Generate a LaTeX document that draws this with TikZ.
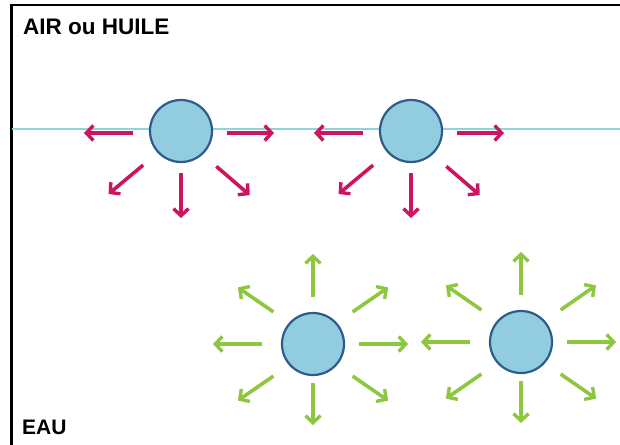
\documentclass[tikz,border=0pt]{standalone}
\usepackage{fontspec}
\setmainfont{Liberation Sans}
\usetikzlibrary{arrows.meta}
\definecolor{redar}{HTML}{CC1560}
\definecolor{greenar}{HTML}{8DC63F}
\definecolor{ballfill}{HTML}{92CDDF}
\definecolor{balledge}{HTML}{2E5A8C}
\definecolor{surface}{HTML}{8FD3DF}
\tikzset{
  ball/.style={circle, draw=balledge, fill=ballfill, line width=2.2pt, minimum size=62pt, inner sep=0pt},
  redarrow/.style={draw=redar, line width=3.6pt, -{Straight Barb[length=7pt,width=15pt,line width=3.4pt]}},
  greenarrow/.style={draw=greenar, line width=3.6pt, -{Straight Barb[length=7pt,width=15pt,line width=3.4pt]}},
  label/.style={font=\bfseries, anchor=base west, inner sep=0pt}
}
\begin{document}
\begin{tikzpicture}[x=1pt,y=-1pt]
\useasboundingbox (0,0) rectangle (620,444);
\clip (0,0) rectangle (620,444);
\draw[black, line width=2.2pt] (11.5,5) rectangle (630,460);
% interface
\coordinate (sl) at (12,129);
\coordinate (sr) at (620,129);
\draw[surface, line width=2.4pt] (sl) -- (sr);
% labels
\node[label, font=\bfseries\fontsize{22.5}{26}\selectfont] (air) at (23,34.3) {AIR ou HUILE};
\node[label, font=\bfseries\fontsize{21}{24}\selectfont] (eau) at (22,434.3) {EAU};
% balls
\node[ball] (b1) at (181,131) {};
\node[ball] (b2) at (411,131) {};
\node[ball] (b3) at (313,344) {};
\node[ball] (b4) at (521,342) {};
% red arrows
\foreach \b in {b1,b2}{
  \draw[redarrow] ([shift={(-48,2)}]\b.center) -- ([shift={(-97,2)}]\b.center);
  \draw[redarrow] ([shift={(46,2)}]\b.center) -- ([shift={(93,2)}]\b.center);
  \draw[redarrow] ([shift={(138:51)}]\b.center) -- ([shift={(139:96)}]\b.center);
  \draw[redarrow] ([shift={(90:42)}]\b.center) -- ([shift={(90:87)}]\b.center);
  \draw[redarrow] ([shift={(45:50)}]\b.center) -- ([shift={(43:94)}]\b.center);
}
% green arrows
\foreach \b in {b3,b4}{
  \draw[greenarrow] ([shift={(-90:47)}]\b.center) -- ([shift={(-90:90)}]\b.center);
  \draw[greenarrow] ([shift={(90:39)}]\b.center) -- ([shift={(90:81)}]\b.center);
  \draw[greenarrow] ([shift={(180:51)}]\b.center) -- ([shift={(180:100)}]\b.center);
  \draw[greenarrow] ([shift={(0:46)}]\b.center) -- ([shift={(0:95)}]\b.center);
  \draw[greenarrow] ([shift={(-141:51)}]\b.center) -- ([shift={(-143:94)}]\b.center);
  \draw[greenarrow] ([shift={(-39:51)}]\b.center) -- ([shift={(-37:94)}]\b.center);
  \draw[greenarrow] ([shift={(141:51)}]\b.center) -- ([shift={(143:94)}]\b.center);
  \draw[greenarrow] ([shift={(39:51)}]\b.center) -- ([shift={(37:94)}]\b.center);
}
\end{tikzpicture}
\end{document}
